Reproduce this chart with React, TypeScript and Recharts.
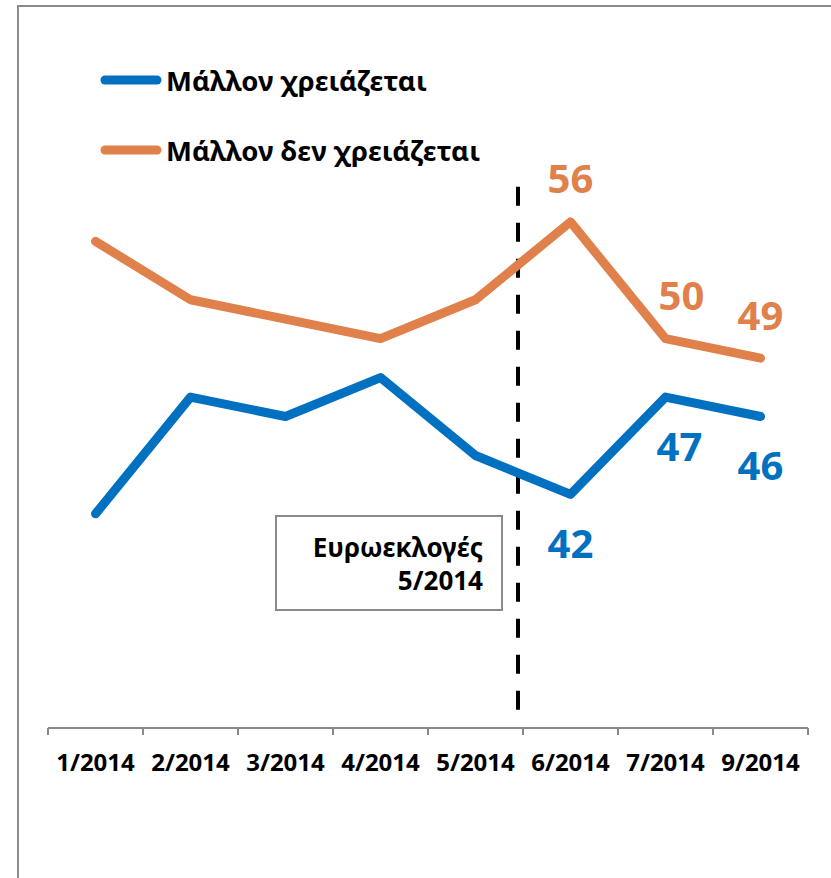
import React from "react";
import { LineChart, Line, XAxis, YAxis, ReferenceLine, LabelList } from "recharts";

const categories = ["1/2014", "2/2014", "3/2014", "4/2014", "5/2014", "6/2014", "7/2014", "9/2014"];
const neededValues = [41, 47, 46, 48, 44, 42, 47, 46];
const notNeededValues = [55, 52, 51, 50, 52, 56, 50, 49];
const labeledMonths = ["6/2014", "7/2014", "9/2014"];
const seriesNames = { needed: "Μάλλον χρειάζεται", notNeeded: "Μάλλον δεν χρειάζεται" };
const annotationLines = ["Ευρωεκλογές", "5/2014"];
const electionMonth = "6/2014";

const data = categories.map((month, i) => ({
  month,
  needed: neededValues[i],
  notNeeded: notNeededValues[i],
}));

const W = 831;
const H = 878;
const MARGIN = { top: 144, right: 23, bottom: 90, left: 48 };
const X_AXIS_H = 60;
const BAND = (W - MARGIN.left - MARGIN.right) / categories.length;
const FONT = "'Noto Sans', 'DejaVu Sans', sans-serif";
const BLUE = "#0070C0";
const ORANGE = "#E0804A";
const GRAY = "#8A8A8A";

const legendItems = [
  { name: seriesNames.needed, color: BLUE },
  { name: seriesNames.notNeeded, color: ORANGE },
];

const CustomTick = (props: any) => {
  const { x, y, payload, index } = props;
  const last = index === categories.length - 1;
  return (
    <g>
      <line x1={x - BAND / 2} x2={x - BAND / 2} y1={y} y2={y + 7} stroke={GRAY} strokeWidth={2} />
      {last && <line x1={x + BAND / 2} x2={x + BAND / 2} y1={y} y2={y + 7} stroke={GRAY} strokeWidth={2} />}
      <text x={x} y={y + 43} textAnchor="middle" fontFamily={FONT} fontWeight={700} fontSize={24} fill="#000">
        {payload.value}
      </text>
    </g>
  );
};

const makeLabel = (color: string, dy: number, dxMap: Record<string, number>) => (p: any) => {
  const { x, y, value, index } = p;
  const month = categories[index];
  if (!labeledMonths.includes(month)) return null;
  return (
    <text
      x={x + (dxMap[month] || 0)}
      y={y + dy}
      textAnchor="middle"
      dominantBaseline="central"
      fontFamily={FONT}
      fontWeight={700}
      fontSize={40}
      fill={color}
    >
      {value}
    </text>
  );
};

export default function App() {
  return (
    <div style={{ position: "absolute", left: 0, top: 0, width: W, height: H, overflow: "hidden", background: "#fff" }}>
      <div
        style={{
          position: "absolute",
          left: 17,
          top: 5,
          width: W + 40,
          height: H + 40,
          border: `2px solid ${GRAY}`,
          boxSizing: "border-box",
        }}
      />
      <div style={{ position: "absolute", left: 0, top: 0 }}>
        <LineChart width={W} height={H} data={data} margin={MARGIN}>
          <XAxis
            dataKey="month"
            scale="band"
            interval={0}
            height={X_AXIS_H}
            tickSize={0}
            tickMargin={0}
            tickLine={false}
            axisLine={{ stroke: GRAY, strokeWidth: 2 }}
            tick={<CustomTick />}
          />
          <YAxis hide domain={[30, 60]} allowDataOverflow />
          <ReferenceLine
            segment={[
              { x: electionMonth, y: 57.8 },
              { x: electionMonth, y: 30.6 },
            ]}
            position="start"
            stroke="#000"
            strokeWidth={4}
            strokeDasharray="19 17"
            ifOverflow="visible"
            transform="translate(-5, 0)"
          />
          <Line
            dataKey="needed"
            name={seriesNames.needed}
            stroke={BLUE}
            strokeWidth={9}
            strokeLinecap="round"
            strokeLinejoin="round"
            dot={false}
            activeDot={false}
            isAnimationActive={false}
          >
            <LabelList dataKey="needed" content={makeLabel(BLUE, 48, { "7/2014": 14 })} />
          </Line>
          <Line
            dataKey="notNeeded"
            name={seriesNames.notNeeded}
            stroke={ORANGE}
            strokeWidth={9}
            strokeLinecap="round"
            strokeLinejoin="round"
            dot={false}
            activeDot={false}
            isAnimationActive={false}
          >
            <LabelList dataKey="notNeeded" content={makeLabel(ORANGE, -44, { "7/2014": 16 })} />
          </Line>
        </LineChart>
      </div>
      <div style={{ position: "absolute", left: 100, top: 45 }}>
        {legendItems.map((entry, i) => (
          <div key={i} style={{ display: "flex", alignItems: "center", height: 70 }}>
            <svg width={62} height={12} style={{ display: "block" }}>
              <line x1={5} x2={57} y1={6} y2={6} stroke={entry.color} strokeWidth={9} strokeLinecap="round" />
            </svg>
            <span style={{ fontFamily: FONT, fontWeight: 700, fontSize: 27.5, color: "#000", marginLeft: 4, whiteSpace: "nowrap" }}>
              {entry.name}
            </span>
          </div>
        ))}
      </div>
      <div
        style={{
          position: "absolute",
          left: 275,
          top: 515,
          width: 228,
          height: 96,
          border: `2px solid ${GRAY}`,
          boxSizing: "border-box",
          background: "#fff",
          textAlign: "right",
          paddingRight: 18,
          paddingTop: 14,
          fontFamily: FONT,
          fontWeight: 700,
          fontSize: 26,
          lineHeight: "33px",
          color: "#000",
          whiteSpace: "nowrap",
        }}
      >
        {annotationLines.map((l, i) => (
          <div key={i}>{l}</div>
        ))}
      </div>
    </div>
  );
}
